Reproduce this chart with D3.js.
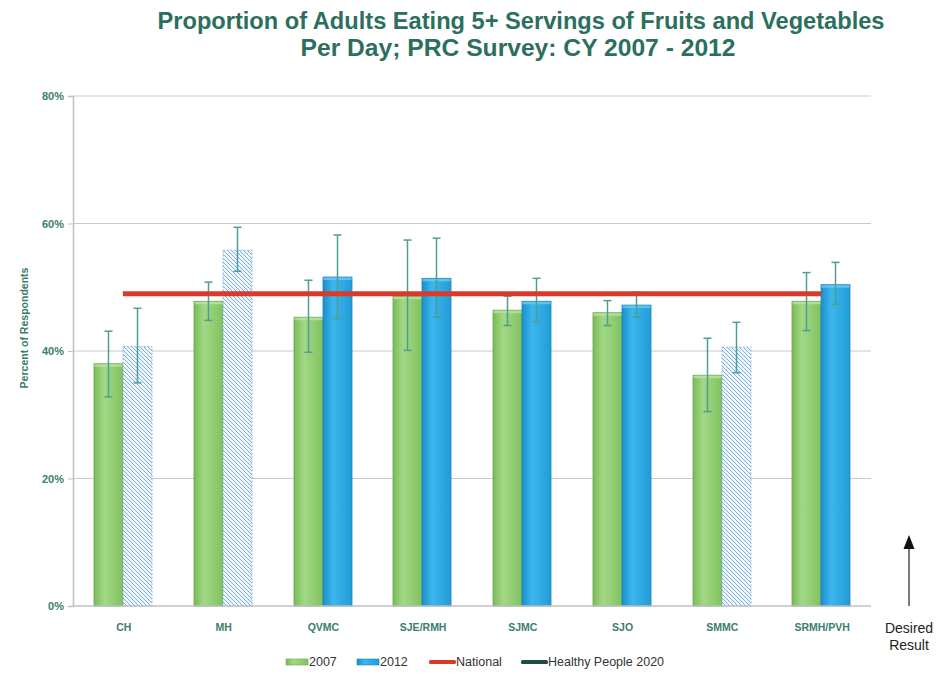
<!DOCTYPE html>
<html>
<head>
<meta charset="utf-8">
<script src="https://cdn.jsdelivr.net/npm/d3@7"></script>
<style>
  html, body { margin: 0; padding: 0; background: #ffffff; }
  svg { display: block; }
</style>
</head>
<body>
<svg id="chart" width="936" height="675"></svg>
<script>
// ---------- data ----------
const categories = ["CH", "MH", "QVMC", "SJE/RMH", "SJMC", "SJO", "SMMC", "SRMH/PVH"];
const seriesNames = ["2007", "2012"];
const values2007 = [38.0, 47.8, 45.3, 48.6, 46.4, 46.0, 36.2, 47.8];
const values2012 = [40.7, 55.8, 51.6, 51.4, 47.8, 47.2, 40.6, 50.4];
const errLow2007 = [32.8, 44.8, 39.8, 40.1, 44.0, 44.0, 30.5, 43.2];
const errHigh2007 = [43.1, 50.8, 51.1, 57.4, 48.6, 47.9, 42.0, 52.3];
const errLow2012 = [35.0, 52.5, 45.1, 45.3, 44.6, 45.3, 36.6, 47.3];
const errHigh2012 = [46.7, 59.4, 58.2, 57.7, 51.4, 49.2, 44.5, 53.9];
const hatched2012 = [true, true, false, false, false, false, true, false];
const nationalValue = 49.0;
const yTicks = [0, 20, 40, 60, 80];
const legendLabels = ["2007", "2012", "National", "Healthy People 2020"];
const titleLines = ["Proportion of Adults Eating 5+ Servings of Fruits and Vegetables",
                    "Per Day; PRC Survey: CY 2007 - 2012"];

// ---------- setup ----------
const svg = d3.select("#chart");
const teal = "#2c6f5e";
const tickColor = "#3a7d6b";

const defs = svg.append("defs");
const gGreen = defs.append("linearGradient").attr("id", "gGreen").attr("x1", 0).attr("x2", 1).attr("y1", 0).attr("y2", 0);
gGreen.append("stop").attr("offset", "0%").attr("stop-color", "#78bb57");
gGreen.append("stop").attr("offset", "35%").attr("stop-color", "#a3d886");
gGreen.append("stop").attr("offset", "100%").attr("stop-color", "#80c25f");
const gBlue = defs.append("linearGradient").attr("id", "gBlue").attr("x1", 0).attr("x2", 1).attr("y1", 0).attr("y2", 0);
gBlue.append("stop").attr("offset", "0%").attr("stop-color", "#1b8fcc");
gBlue.append("stop").attr("offset", "35%").attr("stop-color", "#3cb6ec");
gBlue.append("stop").attr("offset", "100%").attr("stop-color", "#229cd8");
const hatch = defs.append("pattern").attr("id", "hatch").attr("patternUnits", "userSpaceOnUse")
  .attr("width", 4).attr("height", 4);
hatch.append("rect").attr("width", 4).attr("height", 4).attr("fill", "#f0f6fc");
hatch.append("path").attr("d", "M-1,-1 L5,5 M-1,3 L1,5 M3,-1 L5,1")
  .attr("stroke", "#79b0dc").attr("stroke-width", 1);

// ---------- title ----------
svg.append("text").attr("x", 521).attr("y", 29).attr("text-anchor", "middle")
  .attr("font-family", "Liberation Sans, Arial, sans-serif").attr("font-weight", "bold")
  .attr("font-size", 23).attr("fill", teal)
  .attr("textLength", 727).attr("lengthAdjust", "spacingAndGlyphs")
  .text(titleLines[0]);
svg.append("text").attr("x", 518).attr("y", 56).attr("text-anchor", "middle")
  .attr("font-family", "Liberation Sans, Arial, sans-serif").attr("font-weight", "bold")
  .attr("font-size", 23).attr("fill", teal)
  .attr("textLength", 435).attr("lengthAdjust", "spacingAndGlyphs")
  .text(titleLines[1]);

// ---------- scales ----------
const x0 = d3.scaleBand().domain(categories).range([73, 871]).paddingInner(0).paddingOuter(0);
const x1 = d3.scaleBand().domain(seriesNames).range([0, x0.bandwidth()]).paddingInner(0).paddingOuter(0.72);
const y = d3.scaleLinear().domain([0, 80]).range([606, 96]);

// gridlines
svg.append("g").selectAll("line").data(yTicks.filter(d => d > 0)).join("line")
  .attr("x1", 73).attr("x2", 871).attr("y1", d => y(d)).attr("y2", d => y(d))
  .attr("stroke", "#c9c9c9").attr("stroke-width", 1.2);

// y axis
const yAxis = svg.append("g").attr("transform", "translate(73,0)")
  .call(d3.axisLeft(y).tickValues(yTicks).tickFormat(d => d + "%").tickSize(5).tickPadding(4));
yAxis.select(".domain").attr("stroke", "#c0c0c0").attr("stroke-width", 1.5);
yAxis.selectAll(".tick line").attr("stroke", "#c0c0c0");
yAxis.selectAll(".tick text").attr("font-family", "Liberation Sans, Arial, sans-serif")
  .attr("font-weight", "bold").attr("font-size", 11).attr("fill", tickColor);

// y axis title
svg.append("text").attr("transform", "translate(28,328) rotate(-90)").attr("text-anchor", "middle")
  .attr("font-family", "Liberation Sans, Arial, sans-serif").attr("font-weight", "bold")
  .attr("font-size", 10.5).attr("fill", tickColor).text("Percent of Respondents");

// ---------- bars ----------
const rows = categories.map((c, i) => ({
  cat: c,
  bars: [
    { s: "2007", v: values2007[i], lo: errLow2007[i], hi: errHigh2007[i], hatched: false },
    { s: "2012", v: values2012[i], lo: errLow2012[i], hi: errHigh2012[i], hatched: hatched2012[i] }
  ]
}));

const groups = svg.append("g").selectAll("g").data(rows).join("g")
  .attr("transform", d => `translate(${Math.round(x0(d.cat))},0)`);

groups.selectAll("rect.bar").data(d => d.bars).join("rect").attr("class", "bar")
  .attr("x", d => Math.round(x1(d.s))).attr("width", Math.round(x1.bandwidth()))
  .attr("y", d => y(d.v)).attr("height", d => y(0) - y(d.v))
  .attr("fill", d => d.s === "2007" ? "url(#gGreen)" : (d.hatched ? "url(#hatch)" : "url(#gBlue)"))
  .attr("stroke", d => d.s === "2007" ? "#6aa64c" : (d.hatched ? "#7fb0d8" : "#1b84bd"))
  .attr("stroke-width", 0.8)
  .attr("stroke-dasharray", d => d.hatched ? "2,1.5" : null);

// bar top highlight
groups.selectAll("rect.cap").data(d => d.bars.filter(b => !b.hatched)).join("rect").attr("class", "cap")
  .attr("x", d => Math.round(x1(d.s)) + 0.5).attr("width", Math.round(x1.bandwidth()) - 1)
  .attr("y", d => y(d.v) + 0.5).attr("height", 2.5)
  .attr("fill", d => d.s === "2007" ? "#b9e3a2" : "#6ccaf2").attr("opacity", 0.8);

// ---------- national line ----------
const natX1 = x0(categories[0]) + x0.bandwidth() / 2;
const natX2 = x0(categories[categories.length - 1]) + x0.bandwidth() / 2;
svg.append("line").attr("x1", natX1).attr("x2", natX2)
  .attr("y1", y(nationalValue)).attr("y2", y(nationalValue))
  .attr("stroke", "#d93a2b").attr("stroke-width", 5);

// ---------- error bars ----------
const errColor = "#4c9f93";
const eb = groups.selectAll("g.err").data(d => d.bars).join("g").attr("class", "err")
  .attr("transform", d => `translate(${Math.round(x1(d.s)) + Math.round(x1.bandwidth()) / 2},0)`);
eb.append("line").attr("y1", d => y(d.lo)).attr("y2", d => y(d.hi))
  .attr("stroke", errColor).attr("stroke-width", 1.5);
eb.append("line").attr("x1", -4).attr("x2", 4).attr("y1", d => y(d.lo)).attr("y2", d => y(d.lo))
  .attr("stroke", errColor).attr("stroke-width", 1.5);
eb.append("line").attr("x1", -4).attr("x2", 4).attr("y1", d => y(d.hi)).attr("y2", d => y(d.hi))
  .attr("stroke", errColor).attr("stroke-width", 1.5);

// x axis baseline
svg.append("line").attr("x1", 73).attr("x2", 871).attr("y1", y(0)).attr("y2", y(0))
  .attr("stroke", "#c0c0c0").attr("stroke-width", 1.5);

// category labels
svg.append("g").selectAll("text").data(categories).join("text")
  .attr("x", d => x0(d) + x0.bandwidth() / 2 + 1).attr("y", 631).attr("text-anchor", "middle")
  .attr("font-family", "Liberation Sans, Arial, sans-serif").attr("font-weight", "bold")
  .attr("font-size", 10.5).attr("fill", tickColor).text(d => d);

// ---------- desired result arrow ----------
svg.append("line").attr("x1", 909).attr("x2", 909).attr("y1", 606).attr("y2", 546)
  .attr("stroke", "#333").attr("stroke-width", 1.3);
svg.append("path").attr("d", "M903.5,549 L909,535 L914.5,549 Z").attr("fill", "#111");
svg.append("text").attr("x", 909).attr("y", 633).attr("text-anchor", "middle")
  .attr("font-family", "Liberation Sans Narrow, Liberation Sans, Arial, sans-serif")
  .attr("font-size", 14).attr("fill", "#222").text("Desired");
svg.append("text").attr("x", 909).attr("y", 650).attr("text-anchor", "middle")
  .attr("font-family", "Liberation Sans Narrow, Liberation Sans, Arial, sans-serif")
  .attr("font-size", 14).attr("fill", "#222").text("Result");

// ---------- legend ----------
const legendItems = [
  { label: legendLabels[0], type: "rect", fill: "url(#gGreen)", stroke: "#6aa64c", x: 286 },
  { label: legendLabels[1], type: "rect", fill: "url(#gBlue)", stroke: "#1b84bd", x: 357 },
  { label: legendLabels[2], type: "line", fill: "#d93a2b", x: 429 },
  { label: legendLabels[3], type: "line", fill: "#1d4d45", x: 521 }
];
const lg = svg.append("g").selectAll("g").data(legendItems).join("g")
  .attr("transform", d => `translate(${d.x},0)`);
lg.filter(d => d.type === "rect").append("rect")
  .attr("x", 0).attr("y", 659).attr("width", 22).attr("height", 6)
  .attr("fill", d => d.fill).attr("stroke", d => d.stroke).attr("stroke-width", 0.6);
lg.filter(d => d.type === "line").append("rect")
  .attr("x", 0).attr("y", 660).attr("width", 27).attr("height", 4).attr("rx", 1.5)
  .attr("fill", d => d.fill);
lg.append("text").attr("x", d => d.type === "rect" ? 23 : 27).attr("y", 666)
  .attr("font-family", "Liberation Sans Narrow, Liberation Sans, Arial, sans-serif").attr("font-size", 12.5)
  .attr("fill", "#333").text(d => d.label);
</script>
</body>
</html>
